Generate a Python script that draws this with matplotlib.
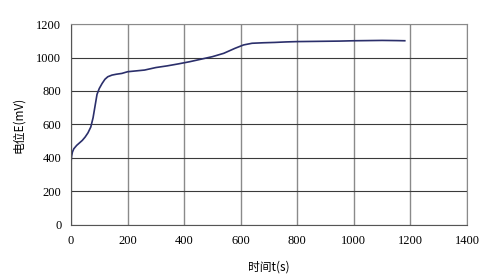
import matplotlib.pyplot as plt

# time (s) and potential (mV)
t = [0, 2, 5, 10, 20, 30, 40, 50, 60, 70, 78, 85, 92, 100, 110, 120, 130, 145,
     160, 180, 200, 230, 260, 300, 340, 380, 420, 460, 500, 540, 580, 610, 640,
     680, 720, 760, 800, 850, 900, 950, 1000, 1050, 1100, 1150, 1180]
E = [370, 410, 435, 455, 475, 490, 505, 525, 550, 585, 640, 710, 780, 815, 845,
     870, 885, 895, 900, 905, 915, 920, 925, 940, 950, 962, 975, 990, 1005, 1025,
     1055, 1075, 1085, 1088, 1090, 1093, 1095, 1096, 1097, 1098, 1100, 1101, 1102, 1101, 1100]

xticks = [0, 200, 400, 600, 800, 1000, 1200, 1400]
yticks = [0, 200, 400, 600, 800, 1000, 1200]

cjk = ['Noto Sans CJK SC', 'DejaVu Sans']

fig = plt.figure(figsize=(5, 2.76), dpi=100)
ax = fig.add_axes([0.142, 0.185, 0.792, 0.728])

ax.plot(t, E, color='#2b2f6b', lw=1.2)

ax.set_xlim(0, 1400)
ax.set_ylim(0, 1200)
ax.set_xticks(xticks)
ax.set_yticks(yticks)
ax.xaxis.grid(True, color='#8a8a8a', lw=1.0)
ax.yaxis.grid(True, color='#3a3a3a', lw=0.8)
ax.set_axisbelow(True)
ax.tick_params(length=0, labelsize=9, pad=7)
for lab in ax.get_xticklabels() + ax.get_yticklabels():
    lab.set_family('Liberation Serif')
for s in ax.spines.values():
    s.set_color('#8a8a8a')
ax.spines['left'].set_color('#555555')
ax.spines['bottom'].set_color('#555555')

ax.set_xlabel('时间t(s)', family=cjk, fontsize=8.5, labelpad=10)
ax.set_ylabel('电位E(mV)', family=cjk, fontsize=8.5, labelpad=8)

fig.savefig('out.png', dpi=100)
